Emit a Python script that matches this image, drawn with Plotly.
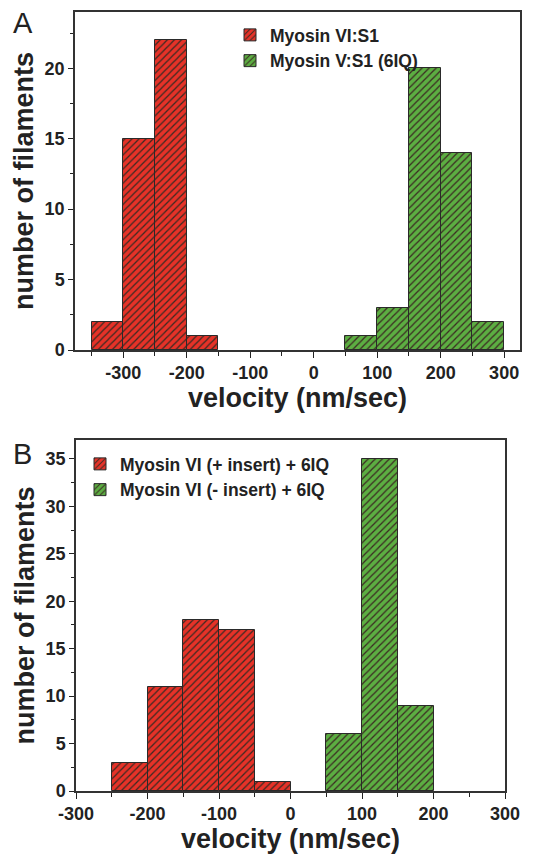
import plotly.graph_objects as go

# Panel A data (bin centres, bin width 50)
a_red_x = [-325, -275, -225, -175]
a_red_y = [2, 15, 22, 1]
a_green_x = [75, 125, 175, 225, 275]
a_green_y = [1, 3, 20, 14, 2]
a_red_name = "Myosin VI:S1"
a_green_name = "Myosin V:S1 (6IQ)"

# Panel B data
b_red_x = [-225, -175, -125, -75, -25]
b_red_y = [3, 11, 18, 17, 1]
b_green_x = [75, 125, 175]
b_green_y = [6, 35, 9]
b_red_name = "Myosin VI (+ insert) + 6IQ"
b_green_name = "Myosin VI (- insert) + 6IQ"

x_tickvals = [-300, -200, -100, 0, 100, 200, 300]
x_ticktext = ["-300", "-200", "-100", "0", "100", "200", "300"]

RED = "#e63228"
GREEN = "#5cae42"
HATCH = "#3b2a22"
EDGE = "#2a2a2a"
FONT = "Liberation Sans"

W, H = 533, 855
OFF = 8  # page body margin


def px(xp):
    return (xp - OFF) / W


def py(yp):
    return 1 - (yp - OFF) / H


def bar(x, y, name, color, xa, ya, legend):
    return go.Bar(
        x=x, y=y, name=name, width=50, xaxis=xa, yaxis=ya, legend=legend,
        marker=dict(color=color, line=dict(color=EDGE, width=1),
                    pattern=dict(shape="/", fgcolor=HATCH, bgcolor=color,
                                 size=5, solidity=0.25, fillmode="replace")),
    )


fig = go.Figure()
fig.add_trace(bar(a_red_x, a_red_y, a_red_name, RED, "x", "y", "legend"))
fig.add_trace(bar(a_green_x, a_green_y, a_green_name, GREEN, "x", "y", "legend"))
fig.add_trace(bar(b_red_x, b_red_y, b_red_name, RED, "x2", "y2", "legend2"))
fig.add_trace(bar(b_green_x, b_green_y, b_green_name, GREEN, "x2", "y2", "legend2"))

tickfont = dict(family=FONT, size=18, color="#222", weight="bold")
titlefont = dict(family=FONT, size=27, color="#222", weight="bold")
legfont = dict(family=FONT, size=17.5, color="#222", weight="bold")


def xaxis(dom, rng, anchor):
    return dict(domain=dom, range=rng, anchor=anchor, automargin=False,
                tickmode="array", tickvals=x_tickvals, ticktext=x_ticktext,
                ticks="outside", ticklen=6, tickwidth=1, tickcolor="#222",
                minor=dict(ticks="outside", ticklen=4, tickmode="linear", dtick=50,
                           tick0=-350, tickcolor="#222"),
                showline=True, linecolor="#333", linewidth=1.5, mirror=True,
                showgrid=False, zeroline=False, tickfont=tickfont,
                title=dict(text="velocity (nm/sec)", font=titlefont, standoff=1))


def yaxis(dom, rng, anchor):
    return dict(domain=dom, range=rng, anchor=anchor, automargin=False,
                tickmode="linear", tick0=0,
                dtick=5, ticks="outside", ticklen=5, tickwidth=1, tickcolor="#222",
                minor=dict(ticks="outside", ticklen=3, dtick=2.5, tickcolor="#222"),
                showline=True, linecolor="#333", linewidth=1.5, mirror=True,
                showgrid=False, zeroline=False, tickfont=tickfont,
                title=dict(text="number of filaments", font=titlefont, standoff=3))


fig.update_layout(
    width=W, height=H, margin=dict(l=0, r=0, t=0, b=0),
    paper_bgcolor="white", plot_bgcolor="white", barmode="overlay", bargap=0,
    xaxis=xaxis([px(75), px(520)], [-376, 325], "y"),
    yaxis=yaxis([py(350), py(12)], [0, 24], "x"),
    xaxis2=xaxis([px(76), px(505)], [-300, 300], "y2"),
    yaxis2=yaxis([py(791), py(440)], [0, 37], "x2"),
    legend=dict(x=px(230), y=py(17), xanchor="left", yanchor="top",
                font=legfont, bgcolor="rgba(0,0,0,0)", tracegroupgap=0, itemwidth=30),
    legend2=dict(x=px(80), y=py(446), xanchor="left", yanchor="top",
                 font=legfont, bgcolor="rgba(0,0,0,0)", tracegroupgap=0, itemwidth=30),
    showlegend=True,
    annotations=[
        dict(text="A", x=px(11), y=py(23), xref="paper", yref="paper",
             xanchor="left", yanchor="middle", showarrow=False,
             font=dict(family=FONT, size=29, color="#222")),
        dict(text="B", x=px(11), y=py(454), xref="paper", yref="paper",
             xanchor="left", yanchor="middle", showarrow=False,
             font=dict(family=FONT, size=29, color="#222")),
    ],
)

fig.write_html("out.html")
